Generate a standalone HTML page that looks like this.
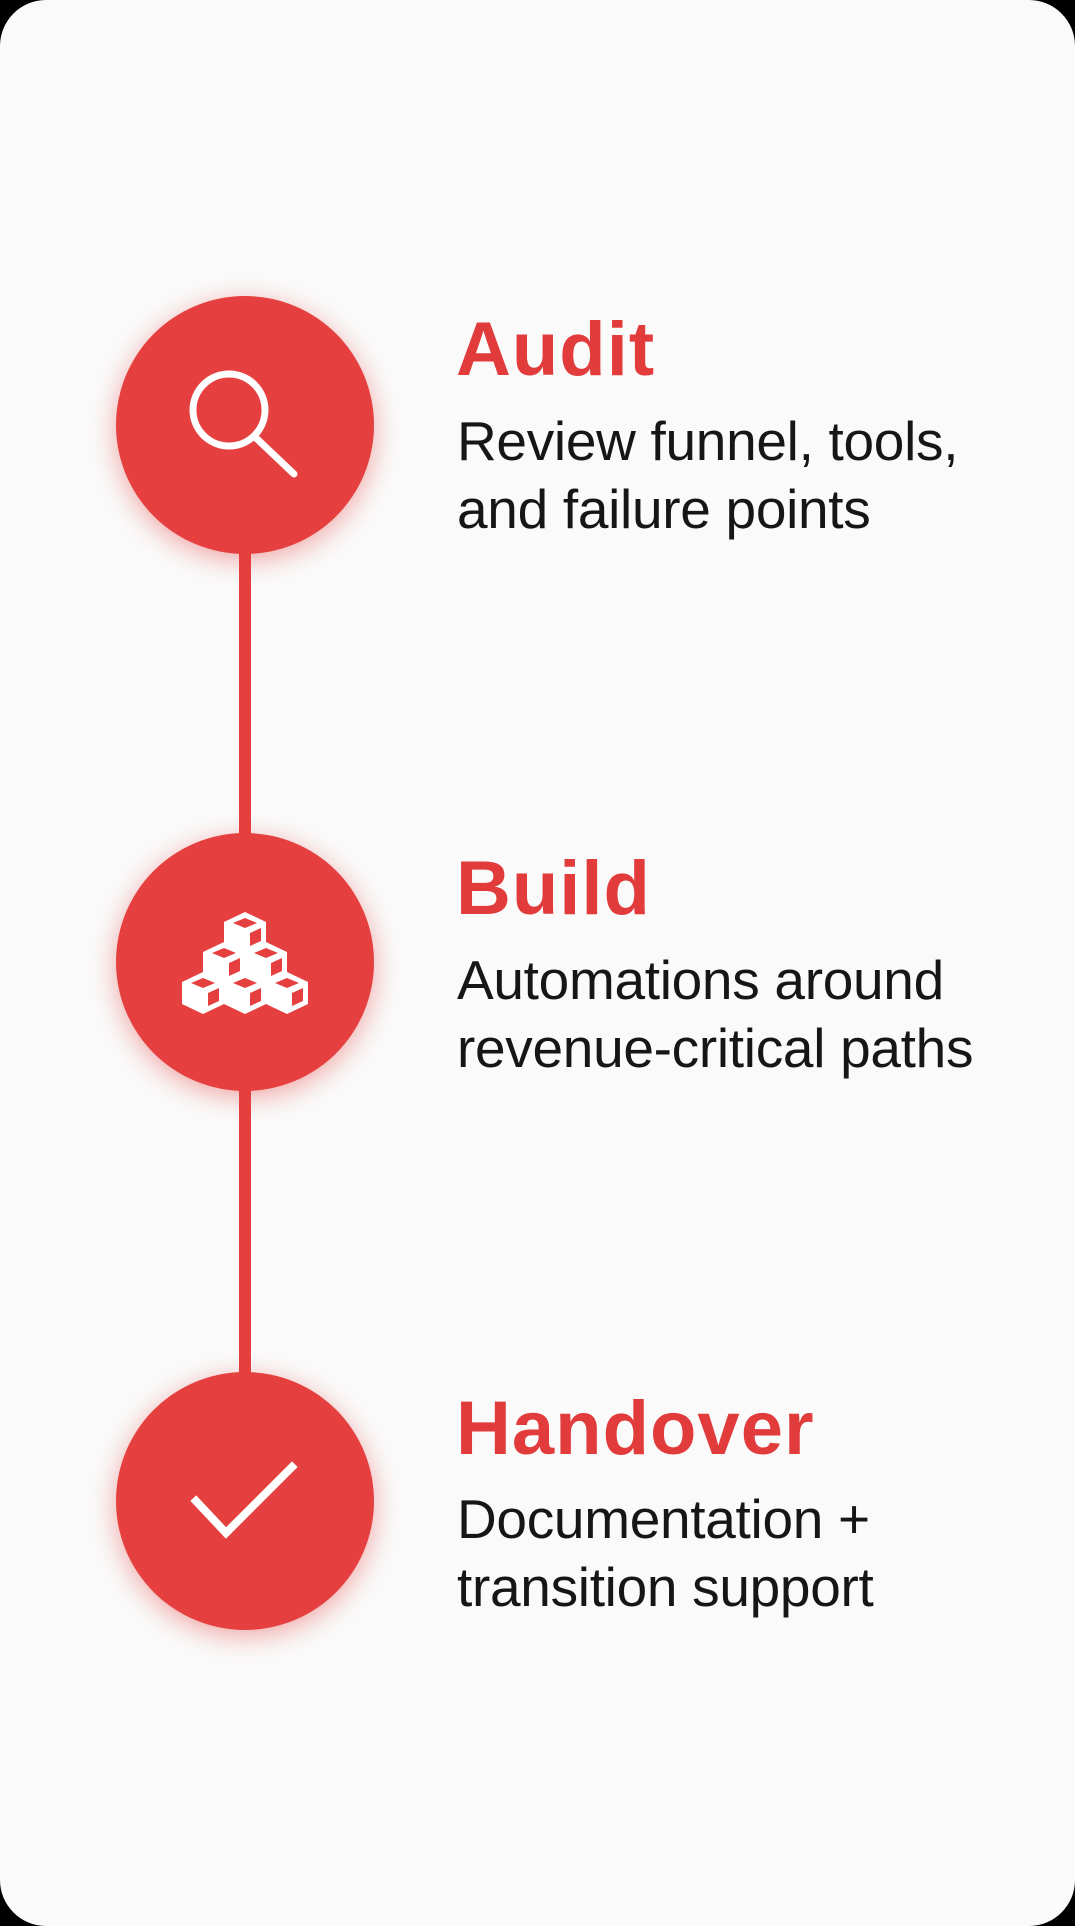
<!DOCTYPE html>
<html><head><meta charset="utf-8"><style>
html,body{margin:0;padding:0;background:#000;}
.page{position:relative;width:1075px;height:1926px;background:#fafafa;border-radius:46px;overflow:hidden;font-family:"Liberation Sans",sans-serif;}
.line{position:absolute;left:239px;width:12px;background:#e5403f;}
.c{position:absolute;left:116px;width:258px;height:258px;border-radius:50%;background:#e5403f;box-shadow:0 6px 26px rgba(229,64,63,0.45);}
.t{position:absolute;left:456px;font-weight:bold;color:#e13b3b;font-size:76px;line-height:1;letter-spacing:1px;}
.d{position:absolute;left:457px;color:#161616;font-size:55px;line-height:68px;letter-spacing:-0.3px;}
svg{position:absolute;left:0;top:0;}
</style></head><body><div class="page">
<div class="line" style="top:540px;height:320px"></div>
<div class="line" style="top:1080px;height:320px"></div>
<div class="c" style="top:296px"></div>
<div class="c" style="top:833px"></div>
<div class="c" style="top:1372px"></div>
<svg width="1075" height="1926">
<g fill="none" stroke="#fff" stroke-width="7" stroke-linecap="round">
<circle cx="229" cy="410" r="36"/>
<line x1="255" y1="437" x2="294" y2="474"/>
</g>
<polyline points="196,1501 226,1533 292,1467" fill="none" stroke="#fff" stroke-width="8" stroke-linecap="square"/>
<defs><g id="cube">
<polygon points="0,-20 21,-10 21,12 0,22 -21,12 -21,-10" fill="#fff"/>
<polygon points="0,-14 12,-9 0,-4 -12,-9" fill="#e5403f"/>
<polygon points="5,1 16,-4 16,9 5,14" fill="#e5403f"/>
</g></defs>
<use href="#cube" x="245" y="932"/>
<use href="#cube" x="224" y="962"/>
<use href="#cube" x="266" y="962"/>
<use href="#cube" x="203" y="992"/>
<use href="#cube" x="245" y="992"/>
<use href="#cube" x="287" y="992"/>
</svg>
<div class="t" style="top:312px">Audit</div>
<div class="d" style="top:407px">Review funnel, tools,<br>and failure points</div>
<div class="t" style="top:851px">Build</div>
<div class="d" style="top:946px">Automations around<br>revenue-critical paths</div>
<div class="t" style="top:1391px">Handover</div>
<div class="d" style="top:1485px">Documentation +<br>transition support</div>
</div></body></html>
